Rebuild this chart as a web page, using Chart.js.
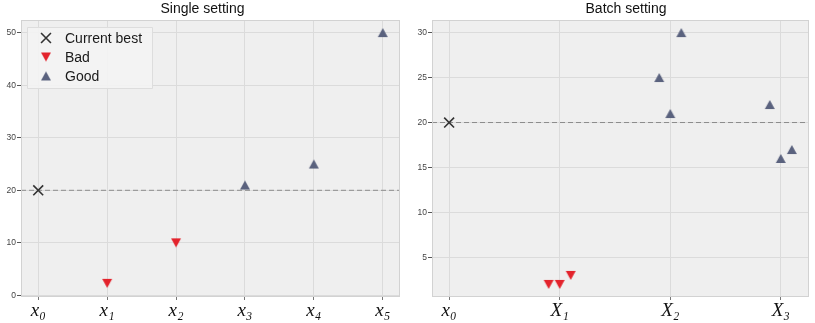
<!DOCTYPE html>
<html>
<head>
<meta charset="utf-8">
<script src="https://cdn.jsdelivr.net/npm/chart.js@4.4.1/dist/chart.umd.min.js"></script>
<style>
  html, body { margin:0; padding:0; background:#ffffff; overflow:hidden; width:815px; height:323px; }
  .panel { position:absolute; top:0; height:323px; }
</style>
</head>
<body>
<div class="panel" style="left:-4px;width:413px;"><canvas id="c1" width="413" height="323"></canvas></div>
<div class="panel" style="left:405px;width:442px;"><canvas id="c2" width="442" height="323"></canvas></div>
<script>
// ---------- Data ----------
const legendLabels = ['Current best', 'Bad', 'Good'];

// Single setting
const singleTitle = 'Single setting';
const singleTickLabels = ['x\u2080', 'x\u2081', 'x\u2082', 'x\u2083', 'x\u2084', 'x\u2085'];
const singleBestX = [0];
const singleBestY = [20];
const singleBadX = [1, 2];
const singleBadY = [2.3, 10];
const singleGoodX = [3, 4, 5];
const singleGoodY = [21, 25, 50];
const singleThreshold = 20;
const singleXRange = [-0.25, 5.25];
const singleYRange = [-0.3, 52.4];
const singleYStep = 10;

// Batch setting
const batchTitle = 'Batch setting';
const batchTickLabels = ['x\u2080', 'X\u2081', 'X\u2082', 'X\u2083'];
const batchBestX = [0];
const batchBestY = [20];
const batchBadX = [0.9, 1.0, 1.1];
const batchBadY = [2, 2, 3];
const batchGoodX = [1.9, 2.0, 2.1, 2.9, 3.0, 3.1];
const batchGoodY = [25, 21, 30, 22, 16, 17];
const batchThreshold = 20;
const batchXRange = [-0.155, 3.255];
const batchYRange = [0.6, 31.4];
const batchYStep = 5;

// ---------- Style ----------
const RED = '#e3232c';
const SLATE = '#5a627e';
const CROSS = '#333333';
const PLOT_BG = '#efefef';
const GRID = '#dbdbdb';
const EDGE = '#d2d2d2';

// triangle marker images, centred on their bounding box (like matplotlib)
function triMarker(color, down) {
  const c = document.createElement('canvas');
  c.width = 12; c.height = 11;
  const g = c.getContext('2d');
  g.fillStyle = color;
  g.beginPath();
  if (down) { g.moveTo(1, 1); g.lineTo(11, 1); g.lineTo(6, 10); }
  else { g.moveTo(6, 1); g.lineTo(11, 10); g.lineTo(1, 10); }
  g.closePath();
  g.fill();
  return c;
}
const badMarker = triMarker(RED, true);
const goodMarker = triMarker(SLATE, false);

function pts(xs, ys) { return xs.map((x, i) => ({ x: x, y: ys[i] })); }

const bgPlugin = {
  id: 'plotBg',
  beforeDraw(chart) {
    const a = chart.chartArea, ctx = chart.ctx;
    ctx.save();
    ctx.fillStyle = PLOT_BG;
    ctx.fillRect(a.left, a.top, a.right - a.left, a.bottom - a.top);
    ctx.restore();
  },
  afterDraw(chart) {
    const a = chart.chartArea, ctx = chart.ctx;
    ctx.save();
    ctx.strokeStyle = EDGE;
    ctx.lineWidth = 1;
    ctx.strokeRect(a.left + 0.5, a.top + 0.5, a.right - a.left - 1, a.bottom - a.top - 1);
    ctx.restore();
    const lg = chart.options.plugins.innerLegend;
    if (lg && lg.show) {
      ctx.save();
      ctx.fillStyle = 'rgba(243,243,243,0.9)';
      ctx.strokeStyle = '#dddddd';
      ctx.lineWidth = 1;
      ctx.beginPath();
      ctx.rect(lg.x + 0.5, lg.y + 0.5, lg.w, lg.h);
      ctx.fill();
      ctx.stroke();
      ctx.font = '14px "Liberation Sans", Arial, sans-serif';
      ctx.textBaseline = 'middle';
      ctx.textAlign = 'left';
      const dsets = chart.data.datasets.filter(d => d.inLegend);
      dsets.forEach((d, i) => {
        const cy = lg.y + 11 + i * 19;
        const cx = lg.x + 19;
        ctx.fillStyle = d.backgroundColor;
        ctx.strokeStyle = d.borderColor;
        ctx.lineWidth = d.borderWidth;
        Chart.helpers.drawPoint(ctx, {
          pointStyle: d.pointStyle, rotation: 0,
          radius: d.pointRadius, borderWidth: d.borderWidth
        }, cx, cy);
        ctx.fillStyle = '#1a1a1a';
        ctx.fillText(d.label, lg.x + 38, cy + 1);
      });
      ctx.restore();
    }
  }
};

function makeChart(canvasId, cfg) {
  const datasets = [
    {
      type: 'line', label: 'threshold', inLegend: false,
      data: [{ x: cfg.xRange[0], y: cfg.threshold }, { x: cfg.xRange[1], y: cfg.threshold }],
      borderColor: '#8c8c8c', borderWidth: 1, borderDash: [5, 3], pointRadius: 0, order: 10
    },
    {
      type: 'scatter', label: legendLabels[0], inLegend: true,
      data: pts(cfg.bestX, cfg.bestY), pointStyle: 'crossRot', pointRadius: 7,
      borderColor: CROSS, backgroundColor: CROSS, borderWidth: 1.6, order: 1
    },
    {
      type: 'scatter', label: legendLabels[1], inLegend: true,
      data: pts(cfg.badX, cfg.badY), pointStyle: badMarker, pointRadius: 6,
      borderColor: RED, backgroundColor: RED, borderWidth: 0, order: 1
    },
    {
      type: 'scatter', label: legendLabels[2], inLegend: true,
      data: pts(cfg.goodX, cfg.goodY), pointStyle: goodMarker, pointRadius: 6,
      borderColor: SLATE, backgroundColor: SLATE, borderWidth: 0, order: 1
    }
  ];
  return new Chart(document.getElementById(canvasId), {
    data: { datasets: datasets },
    plugins: [bgPlugin],
    options: {
      responsive: false,
      animation: false,
      devicePixelRatio: 1,
      layout: { padding: 0 },
      plugins: {
        legend: { display: false },
        tooltip: { enabled: false },
        title: {
          display: true, text: cfg.title, color: '#111111',
          font: { family: '"Liberation Sans", Arial, sans-serif', size: 14, weight: 'normal', lineHeight: 1.2 },
          padding: { top: 1, bottom: 2.2 }
        },
        innerLegend: cfg.legend
      },
      scales: {
        x: {
          type: 'linear', min: cfg.xRange[0], max: cfg.xRange[1],
          grid: { color: GRID, lineWidth: 1, tickLength: 3, tickColor: '#777777', drawTicks: true },
          border: { display: false },
          ticks: {
            stepSize: 1, includeBounds: false, autoSkip: false, maxRotation: 0,
            padding: 0, color: '#111111',
            font: { family: '"Liberation Serif", "DejaVu Serif", serif', style: 'italic', size: 19 },
            callback: (v) => cfg.tickLabels[Math.round(v)] !== undefined && Math.abs(v - Math.round(v)) < 1e-6 ? cfg.tickLabels[Math.round(v)] : ''
          },
          afterFit: (s) => { s.height = 26; s.paddingLeft = 0; s.paddingRight = cfg.rightSpace; }
        },
        y: {
          type: 'linear', min: cfg.yRange[0], max: cfg.yRange[1],
          grid: { color: GRID, lineWidth: 1, tickLength: 4, tickColor: '#555555', drawTicks: true },
          border: { display: false },
          ticks: {
            stepSize: cfg.yStep, includeBounds: false, padding: 1, color: '#444444',
            font: { family: '"Liberation Sans", Arial, sans-serif', size: 8.5 }
          },
          afterFit: (s) => { s.width = cfg.yAxisWidth; s.paddingTop = 0; s.paddingBottom = 0; }
        }
      }
    }
  });
}

makeChart('c1', {
  title: singleTitle, tickLabels: singleTickLabels,
  bestX: singleBestX, bestY: singleBestY, badX: singleBadX, badY: singleBadY,
  goodX: singleGoodX, goodY: singleGoodY, threshold: singleThreshold,
  xRange: singleXRange, yRange: singleYRange, yStep: singleYStep,
  yAxisWidth: 25, rightSpace: 9,
  legend: { show: true, x: 31, y: 27, w: 125, h: 61 }
});

makeChart('c2', {
  title: batchTitle, tickLabels: batchTickLabels,
  bestX: batchBestX, bestY: batchBestY, badX: batchBadX, badY: batchBadY,
  goodX: batchGoodX, goodY: batchGoodY, threshold: batchThreshold,
  xRange: batchXRange, yRange: batchYRange, yStep: batchYStep,
  yAxisWidth: 27, rightSpace: 38,
  legend: { show: false }
});
</script>
</body>
</html>
